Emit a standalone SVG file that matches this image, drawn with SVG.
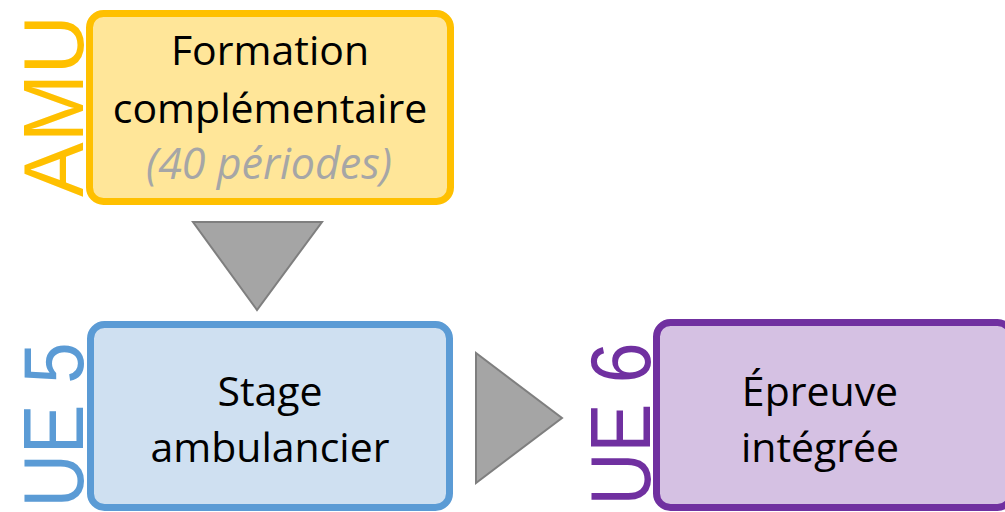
<svg xmlns="http://www.w3.org/2000/svg" width="1005" height="512" viewBox="0 0 1005 512">
<style>
.box{stroke-width:7}
.t{font-family:"Open Sans","Liberation Sans",sans-serif;font-size:41px;fill:#000;text-anchor:middle}
.it{font-style:italic;fill:#A6A6A6;font-size:43px}
.v{font-family:"Liberation Sans","Open Sans",sans-serif;font-size:85px;text-anchor:middle}
.arr{fill:#A5A5A5;stroke:#7F7F7F;stroke-width:2;stroke-linejoin:miter}
</style>
<rect width="1005" height="512" fill="#FFFFFF"/>
<g id="connectors">
<polygon class="arr" points="193,222 322,222 257,310"/>
<polygon class="arr" points="476,353 476,483 562,418"/>
</g>
<g id="node-amu">
<rect class="box" x="89.5" y="13.5" width="361" height="188" rx="14" fill="#FFE699" stroke="#FFC000"/>
<text class="v" fill="#FFC000" transform="translate(83,106) rotate(-90)" textLength="182" lengthAdjust="spacingAndGlyphs">AMU</text>
<text class="t" x="270" y="65">Formation</text>
<text class="t" x="270" y="123">complémentaire</text>
<text class="t it" x="269" y="179">(40 périodes)</text>
</g>
<g id="node-ue5">
<rect class="box" x="90.5" y="324.5" width="359" height="183" rx="14" fill="#CFE0F1" stroke="#5B9BD5"/>
<text class="v" fill="#5B9BD5" transform="translate(83,425) rotate(-90)" textLength="165" lengthAdjust="spacingAndGlyphs">UE 5</text>
<text class="t" x="270" y="406">Stage</text>
<text class="t" x="270" y="462">ambulancier</text>
</g>
<g id="node-ue6">
<rect class="box" x="656.5" y="322.5" width="355" height="185" rx="14" fill="#D5C1E3" stroke="#7030A0"/>
<text class="v" fill="#7030A0" transform="translate(650,424) rotate(-90)" textLength="163" lengthAdjust="spacingAndGlyphs">UE 6</text>
<text class="t" x="820" y="406">Épreuve</text>
<text class="t" x="820" y="462">intégrée</text>
</g>
</svg>
